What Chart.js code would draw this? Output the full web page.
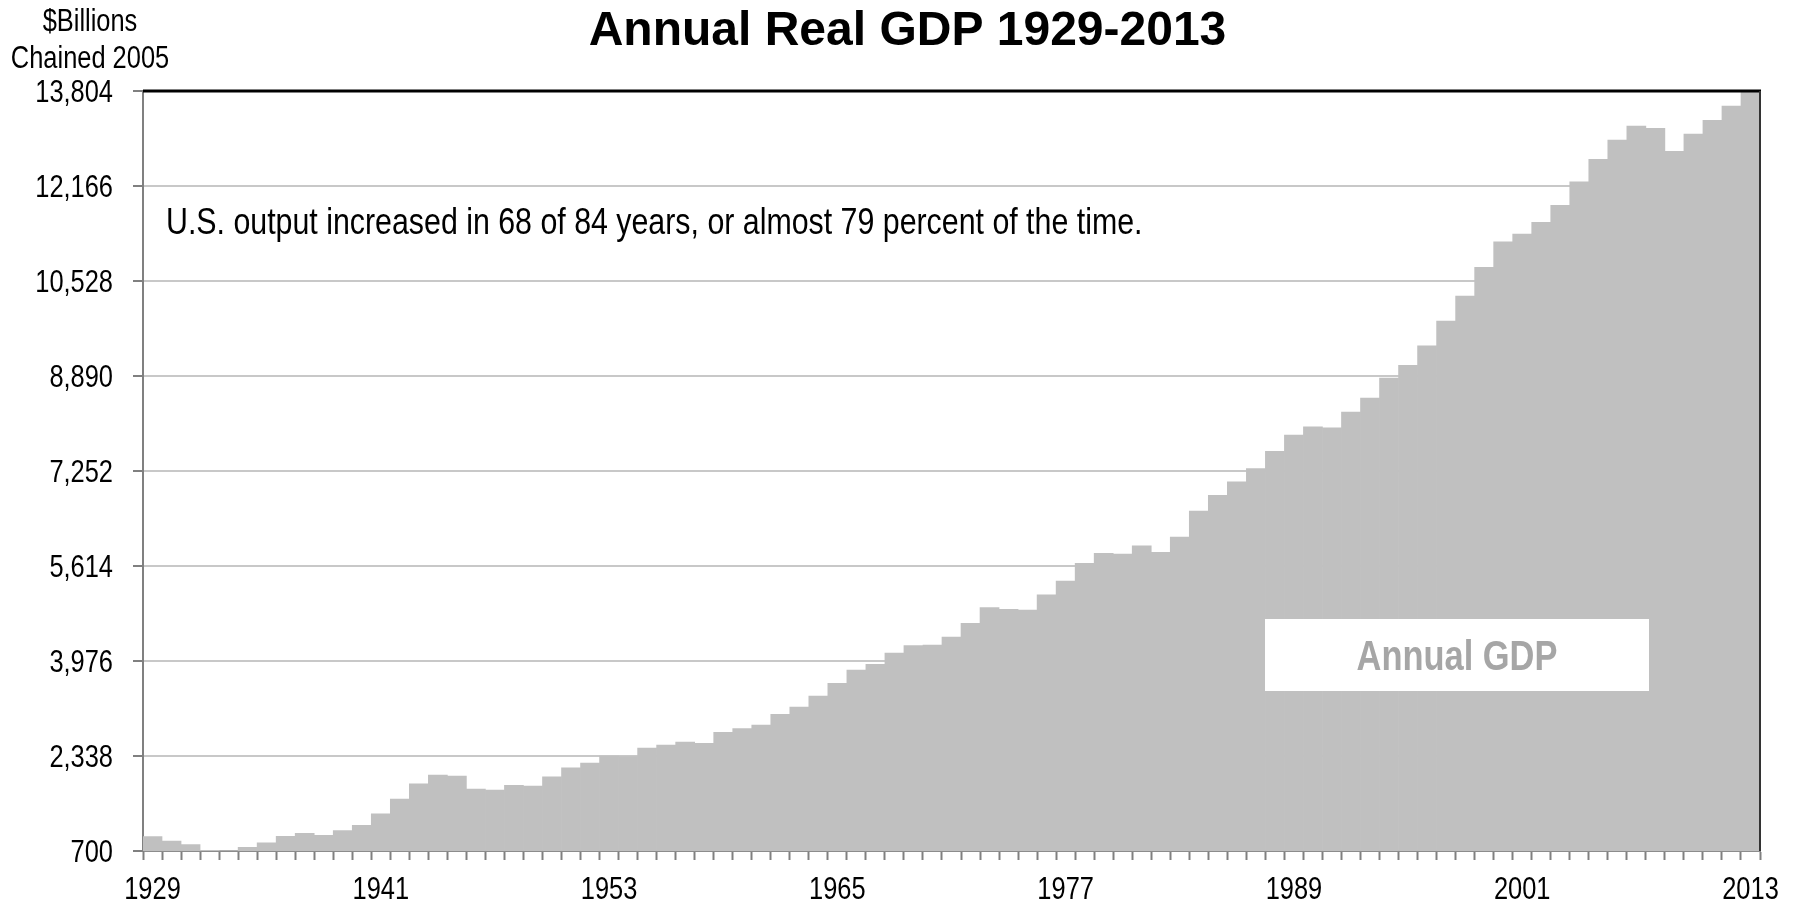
<!DOCTYPE html>
<html>
<head>
<meta charset="utf-8">
<title>Annual Real GDP 1929-2013</title>
<script src="https://cdn.jsdelivr.net/npm/chart.js@4"></script>
<style>
  html, body { margin: 0; padding: 0; background: #fff; }
  #gdpChart { display: block; }
</style>
</head>
<body>
<canvas id="gdpChart" width="1796" height="907"></canvas>
<script>
const years = [
    1929, 1930, 1931, 1932, 1933, 1934, 1935, 1936, 1937, 1938,
    1939, 1940, 1941, 1942, 1943, 1944, 1945, 1946, 1947, 1948,
    1949, 1950, 1951, 1952, 1953, 1954, 1955, 1956, 1957, 1958,
    1959, 1960, 1961, 1962, 1963, 1964, 1965, 1966, 1967, 1968,
    1969, 1970, 1971, 1972, 1973, 1974, 1975, 1976, 1977, 1978,
    1979, 1980, 1981, 1982, 1983, 1984, 1985, 1986, 1987, 1988,
    1989, 1990, 1991, 1992, 1993, 1994, 1995, 1996, 1997, 1998,
    1999, 2000, 2001, 2002, 2003, 2004, 2005, 2006, 2007, 2008,
    2009, 2010, 2011, 2012, 2013
];

// real GDP, $ billions, chained 2005 dollars
const gdp = [
    950, 872, 810, 712, 706, 765, 840, 955, 1005, 970,
    1050, 1143, 1343, 1597, 1860, 2010, 1993, 1769, 1752, 1833,
    1821, 1981, 2136, 2217, 2338, 2330, 2476, 2528, 2579, 2557,
    2747, 2809, 2872, 3057, 3183, 3373, 3591, 3821, 3919, 4114,
    4240, 4252, 4390, 4626, 4895, 4867, 4855, 5119, 5355, 5660,
    5832, 5821, 5962, 5849, 6114, 6562, 6831, 7067, 7292, 7591,
    7872, 8015, 7998, 8269, 8510, 8855, 9073, 9411, 9838, 10269,
    10763, 11205, 11338, 11540, 11833, 12240, 12626, 12959, 13200, 13160,
    12763, 13061, 13297, 13543, 13804
];

const yMin = 700;
const yMax = 13804;
const yStep = 1638;
const labelEvery = 12;

const chartTitle = "Annual Real GDP 1929-2013";
const unitLines = ["$Billions", "Chained 2005"];
const note = "U.S. output increased in 68 of 84 years, or almost 79 percent of the time.";

const SANS = "'Liberation Sans', Arial, sans-serif";
const NARROW_X = 0.82;   // squeeze factor for the condensed lettering

// text drawn squeezed sideways round its anchor point
function narrowText(ctx, text, x, y, align, font) {
    ctx.save();
    ctx.font = font;
    ctx.textAlign = align;
    ctx.textBaseline = "alphabetic";
    ctx.translate(x, y);
    ctx.scale(NARROW_X, 1);
    ctx.fillText(text, 0, 0);
    ctx.restore();
}

// black top edge and dark right edge round the plot
const plotFrame = {
    id: "plotFrame",
    afterDatasetsDraw(chart) {
        const { ctx, chartArea: a } = chart;
        ctx.save();
        ctx.strokeStyle = "#000";
        ctx.lineWidth = 3;
        ctx.beginPath();
        ctx.moveTo(a.left, a.top);
        ctx.lineTo(a.right + 1, a.top);
        ctx.stroke();
        ctx.strokeStyle = "#333";
        ctx.lineWidth = 2;
        ctx.beginPath();
        ctx.moveTo(a.right, a.top);
        ctx.lineTo(a.right, a.bottom);
        ctx.stroke();
        ctx.restore();
    }
};

// tick labels in condensed lettering, placed from the scales
const narrowTicks = {
    id: "narrowTicks",
    afterDraw(chart) {
        const ctx = chart.ctx;
        const font = "31px " + SANS;
        ctx.save();
        ctx.fillStyle = "#000";
        const y = chart.scales.y;
        y.ticks.forEach((t, i) => {
            narrowText(ctx, t.label, y.right - 30, y.getPixelForTick(i) + 11, "right", font);
        });
        const x = chart.scales.x;
        x.ticks.forEach((t, i) => {
            if (t.label) narrowText(ctx, t.label, x.getPixelForTick(i), x.top + 48, "center", font);
        });
        ctx.restore();
    }
};

// unit caption, note line and the boxed series name
const extraText = {
    id: "extraText",
    afterDraw(chart) {
        const { ctx, chartArea: a } = chart;
        ctx.save();
        ctx.fillStyle = "#000";
        narrowText(ctx, unitLines[0], 90, 31, "center", "31px " + SANS);
        narrowText(ctx, unitLines[1], 90, 68, "center", "31px " + SANS);
        narrowText(ctx, note, a.left + 23, a.top + 143, "left", "37px " + SANS);

        const bx = a.right - 495, by = a.top + 528, bw = 384, bh = 72;
        ctx.fillStyle = "#fff";
        ctx.fillRect(bx, by, bw, bh);
        ctx.fillStyle = "#a6a6a6";
        narrowText(ctx, chart.data.datasets[0].label, bx + bw / 2, by + 51, "center", "bold 42px " + SANS);
        ctx.restore();
    }
};

const ctx = document.getElementById("gdpChart");
new Chart(ctx, {
    type: "bar",
    data: {
        labels: years,
        datasets: [{
            label: "Annual GDP",
            data: gdp,
            backgroundColor: "#c0c0c0",
            borderWidth: 0,
            barPercentage: 1,
            categoryPercentage: 1
        }]
    },
    options: {
        responsive: false,
        animation: false,
        layout: { padding: { left: 55, right: 36, top: 0, bottom: 0 } },
        plugins: {
            legend: { display: false },
            tooltip: { enabled: false },
            title: {
                display: true,
                text: chartTitle,
                color: "#000",
                font: { family: SANS, size: 48, weight: "bold", lineHeight: 1.2 },
                padding: { top: 3, bottom: 30.4 }
            }
        },
        scales: {
            x: {
                grid: {
                    offset: true,
                    drawOnChartArea: false,
                    tickLength: 9,
                    tickColor: "#808080",
                    tickWidth: 2
                },
                border: { color: "#8c8c8c", width: 2 },
                ticks: {
                    display: false,
                    autoSkip: false,
                    callback: function (v, i) {
                        return i % labelEvery === 0 ? this.getLabelForValue(v) : "";
                    }
                },
                afterFit: s => { s.height = 56; }
            },
            y: {
                min: yMin,
                max: yMax,
                grid: {
                    color: "#c8c8c8",
                    lineWidth: 2,
                    tickColor: "#808080",
                    tickLength: 10
                },
                border: { color: "#808080", width: 2 },
                ticks: {
                    display: false,
                    stepSize: yStep,
                    callback: v => v.toLocaleString("en-US")
                },
                afterFit: s => { s.width = 88; }
            }
        }
    },
    plugins: [plotFrame, narrowTicks, extraText]
});
</script>
</body>
</html>
